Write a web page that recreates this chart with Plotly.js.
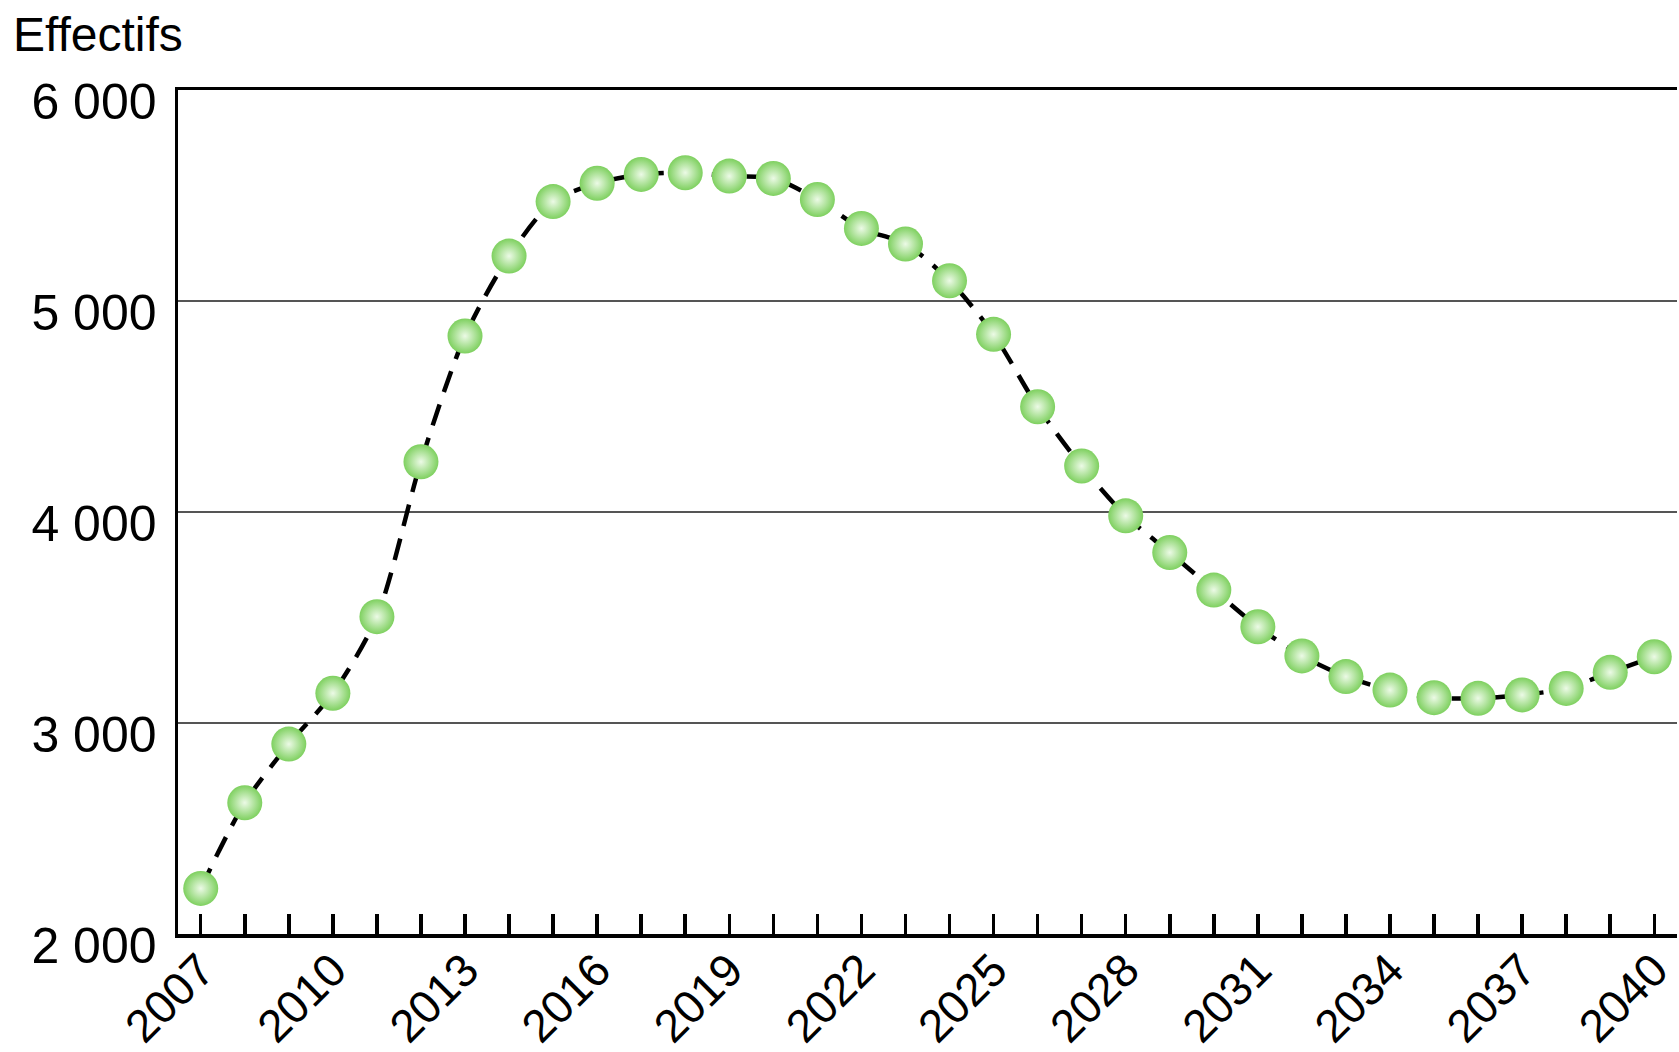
<!DOCTYPE html>
<html>
<head>
<meta charset="utf-8">
<script src="https://cdn.plot.ly/plotly-3.0.1.min.js"></script>
<style>
  html, body { margin: 0; padding: 0; background: #ffffff; }
  #chart { width: 1679px; height: 1052px; }
</style>
</head>
<body>
<div id="chart"></div>
<script>
// ---- data ----
const years = [2007, 2008, 2009, 2010, 2011, 2012, 2013, 2014, 2015, 2016,
               2017, 2018, 2019, 2020, 2021, 2022, 2023, 2024, 2025, 2026,
               2027, 2028, 2029, 2030, 2031, 2032, 2033, 2034, 2035, 2036,
               2037, 2038, 2039, 2040];
const effectifs = [2216, 2622, 2900, 3141, 3504, 4238, 4834, 5213, 5471, 5558,
                   5600, 5608, 5592, 5581, 5481, 5344, 5270, 5096, 4842, 4499,
                   4218, 3982, 3808, 3630, 3456, 3318, 3220, 3156, 3120, 3117,
                   3133, 3164, 3240, 3314];
const xLabelYears = [2007, 2010, 2013, 2016, 2019, 2022, 2025, 2028, 2031, 2034, 2037, 2040];
const xLabelText = ['2007', '2010', '2013', '2016', '2019', '2022', '2025', '2028', '2031', '2034', '2037', '2040'];
const yTickVals = [2000, 3000, 4000, 5000, 6000];
const yTickText = ['2 000', '3 000', '4 000', '5 000', '6 000'];
const yTitle = 'Effectifs';

const FONT = 'Liberation Sans, Arial, Helvetica, sans-serif';

const trace = {
  x: years,
  y: effectifs,
  type: 'scatter',
  mode: 'lines+markers',
  line: { color: '#000000', width: 4.5, dash: '22px,13px', shape: 'spline', smoothing: 0.8 },
  marker: {
    size: 35,
    color: 'rgb(126,208,95)',
    gradient: { type: 'radial', color: 'rgb(236,250,230)' },
    line: { width: 0 }
  },
  hoverinfo: 'skip',
  cliponaxis: false
};

const layout = {
  width: 1679,
  height: 1052,
  paper_bgcolor: '#ffffff',
  plot_bgcolor: '#ffffff',
  showlegend: false,
  margin: { l: 178, r: 2, t: 90, b: 118, pad: 0 },
  font: { family: FONT, color: '#000000' },
  title: {
    text: yTitle,
    x: 13 / 1679,
    xanchor: 'left',
    xref: 'container',
    y: 1 - 34 / 1052,
    yanchor: 'middle',
    yref: 'container',
    font: { family: FONT, size: 48, color: '#000000' }
  },
  xaxis: {
    range: [2006.484, 2040.516],
    tickmode: 'array',
    tickvals: xLabelYears,
    ticktext: xLabelText,
    tickangle: -45,
    ticks: 'inside',
    ticklen: 20,
    tickwidth: 3.5,
    tickcolor: '#000000',
    ticklabelstandoff: -13,
    minor: { dtick: 1, tick0: 2007, ticks: 'inside', ticklen: 20, tickwidth: 3.5, tickcolor: '#000000', showgrid: false },
    showgrid: false,
    zeroline: false,
    showline: true,
    linecolor: '#000000',
    linewidth: 3.5,
    mirror: true,
    tickfont: { family: FONT, size: 46, color: '#000000' },
    fixedrange: true
  },
  yaxis: {
    range: [2000, 6000],
    tickmode: 'array',
    tickvals: yTickVals,
    ticktext: yTickText,
    ticks: '',
    showgrid: true,
    gridcolor: '#555555',
    gridwidth: 2.2,
    zeroline: false,
    showline: true,
    linecolor: '#000000',
    linewidth: 3.5,
    ticklabelstandoff: 8,
    ticklabelshift: 11,
    tickfont: { family: FONT, size: 50, color: '#000000' },
    fixedrange: true
  }
};

Plotly.newPlot('chart', [trace], layout, { staticPlot: true, displayModeBar: false });
</script>
</body>
</html>
